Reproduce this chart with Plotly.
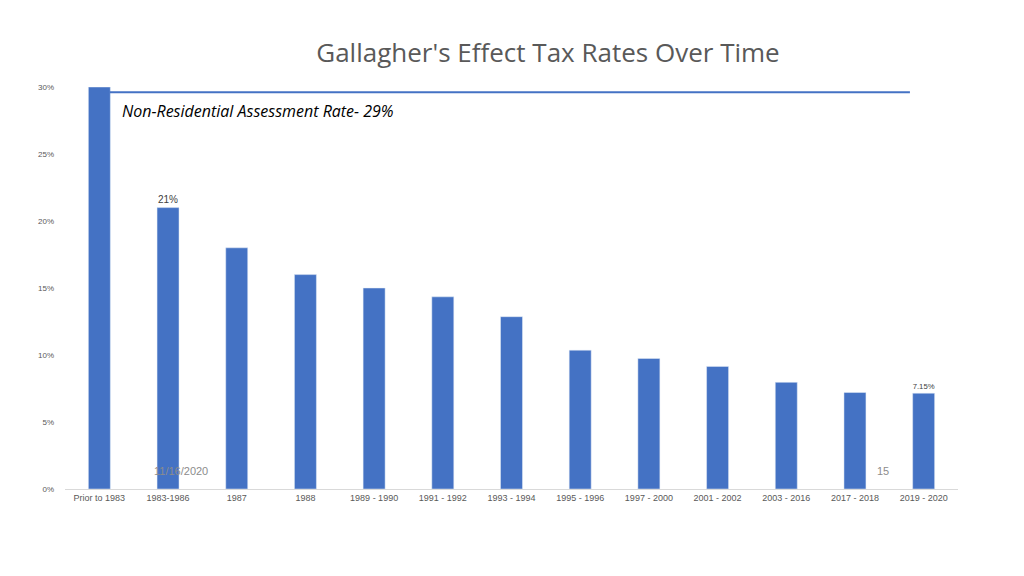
import plotly.graph_objects as go

periods = ['Prior to 1983', '1983-1986', '1987', '1988', '1989 - 1990', '1991 - 1992',
           '1993 - 1994', '1995 - 1996', '1997 - 2000', '2001 - 2002', '2003 - 2016',
           '2017 - 2018', '2019 - 2020']
rates = [30, 21, 18, 16, 15, 14.34, 12.86, 10.36, 9.74, 9.15, 7.96, 7.20, 7.15]
bar_labels = ['', '21%', '', '', '', '', '', '', '', '', '', '', '7.15%']
nonres_line = 29.6

fig = go.Figure(go.Bar(
    x=periods, y=rates, marker_color='#4472C4', text=bar_labels,
    textposition='outside', cliponaxis=False,
    textfont=dict(size=10, color='#404040', family='Liberation Sans'),
))

fig.add_shape(type='line', xref='x', yref='y', x0=0.15, x1=11.8, y0=nonres_line, y1=nonres_line,
              line=dict(color='#4472C4', width=2))
fig.add_annotation(x=0.3, y=nonres_line - 0.4, xref='x', yref='y', xanchor='left', yanchor='top',
                   text='<i>Non-Residential Assessment Rate- 29%</i>', showarrow=False,
                   font=dict(size=16, color='black', family='Open Sans'))
fig.add_annotation(x=100 / 1024, y=1 - 550 / 576, xref='paper', yref='paper', xanchor='left', yanchor='middle',
                   text='11/16/2020', showarrow=False, font=dict(size=11, color='#8c8c8c'))
fig.add_annotation(x=938 / 1024, y=1 - 550 / 576, xref='paper', yref='paper', xanchor='center', yanchor='middle',
                   text='15', showarrow=False, font=dict(size=11, color='#8c8c8c'))

fig.update_layout(
    width=1024, height=576, plot_bgcolor='white', paper_bgcolor='white',
    margin=dict(l=57, r=74, t=79, b=95),
    title=dict(text="Gallagher's Effect Tax Rates Over Time", x=540 / 1024, xanchor='center',
               y=1 - 45 / 576, yanchor='middle', font=dict(size=26, color='#595959', family='Open Sans')),
    bargap=0.68, showlegend=False,
    font=dict(family='Liberation Sans'),
)
fig.update_xaxes(showline=True, linecolor='#d9d9d9', tickfont=dict(size=9, color='#595959'), ticks='')
fig.update_yaxes(range=[0, 30], dtick=5, ticksuffix='%', showgrid=False, zeroline=False,
                 tickfont=dict(size=8, color='#595959'), ticklabelstandoff=10)

fig.write_html('out.html')
